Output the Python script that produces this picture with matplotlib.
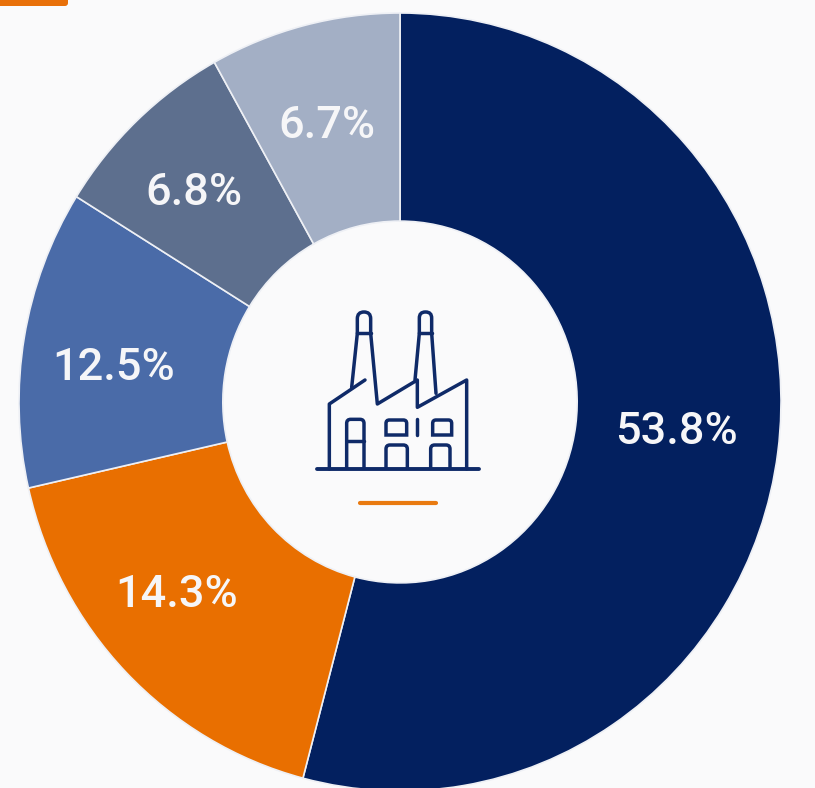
import matplotlib
matplotlib.use('Agg')
import matplotlib.pyplot as plt
from matplotlib.patches import FancyBboxPatch, PathPatch
from matplotlib.path import Path

#Labels printed on the picture
labels = ['53.8%', '14.3%', '12.5%', '6.8%', '6.7%']
#Slice sizes as drawn, they do not follow the printed labels
slice_sizes = [54.1, 17.35, 12.4, 8.05, 8.1]
colors = ['#03205f', '#e96f00', '#4a6ba8', '#5d6f8e', '#a3afc5']
label_xy = [(676, 432), (177, 595), (114, 368), (194, 193), (327, 126)]

W, H = 815, 788
cx, cy, rx, ry = 400, 402, 381, 389
bg = '#fafafb'
navy = '#0f2a68'
orange = '#e97a10'

fig = plt.figure(figsize=(W / 100, H / 100), dpi=100, facecolor=bg)

#------ Donut ------
ax = fig.add_axes([0, 0, 1, 1])
ax.pie(slice_sizes, colors=colors, startangle=90, counterclock=False, radius=1,
       wedgeprops={'width': 0.535, 'edgecolor': '#eef0f5', 'linewidth': 1.2})
ax.set_aspect('auto')
ax.set_xlim(-cx / rx, (W - cx) / rx)
ax.set_ylim(-(H - cy) / ry, cy / ry)
ax.set_facecolor(bg)

#------ Overlay in pixel coordinates ------
top = fig.add_axes([0, 0, 1, 1])
top.set_xlim(0, W)
top.set_ylim(H, 0)
top.axis('off')

for lab, (x, y) in zip(labels, label_xy):
    top.text(x, y, lab, color='#f6f6f8', fontsize=32.5, family='Roboto', weight='medium',
             ha='center', va='center')

#Orange tab in the top left corner
top.add_patch(FancyBboxPatch((-10, -6), 78, 12, boxstyle='round,pad=0,rounding_size=3',
                             fc='#e8700a', ec='none', clip_on=True))


def z(p):
    return (p[0] / 3 + 300, p[1] / 3 + 300)


def poly(pts, lw=2.5):
    xs, ys = zip(*[z(p) for p in pts])
    top.plot(xs, ys, color=navy, lw=lw, solid_capstyle='round', solid_joinstyle='round')


def arch(x0, x1, y0, y1, r=18, closed=False):
    pts = [(x0, y1), (x0, y0 + r), (x0, y0), (x0 + r, y0), (x1 - r, y0), (x1, y0), (x1, y0 + r), (x1, y1)]
    codes = [Path.MOVETO, Path.LINETO, Path.CURVE3, Path.CURVE3, Path.LINETO, Path.CURVE3, Path.CURVE3, Path.LINETO]
    if closed:
        pts += [(x0, y1), (x0, y1)]
        codes += [Path.LINETO, Path.CLOSEPOLY]
    top.add_patch(PathPatch(Path([z(p) for p in pts], codes), fc='none', ec=navy, lw=2.5))


poly([(52, 507), (537, 507)], lw=2.8)
poly([(88, 507), (88, 312), (195, 240)])
poly([(155, 262), (172, 100)])
poly([(212, 100), (232, 312), (352, 240), (352, 322), (500, 240), (500, 507)])
poly([(345, 240), (358, 100)])
poly([(395, 100), (408, 280)])
poly([(172, 100), (212, 100)])
poly([(358, 100), (395, 100)])
arch(172, 212, 36, 100, r=20)
arch(358, 395, 36, 100, r=18)

arch(140, 192, 358, 507, r=12)
poly([(140, 422), (192, 422)])
arch(258, 320, 360, 405, r=10, closed=True)
arch(398, 455, 360, 405, r=10, closed=True)
poly([(352, 357), (352, 405)])
arch(258, 322, 435, 507, r=12)
arch(392, 450, 435, 507, r=12)

#Orange rule under the icon
top.plot([360, 436], [502.5, 502.5], color=orange, lw=3, solid_capstyle='round')

fig.savefig('out.png', dpi=100, facecolor=bg)
